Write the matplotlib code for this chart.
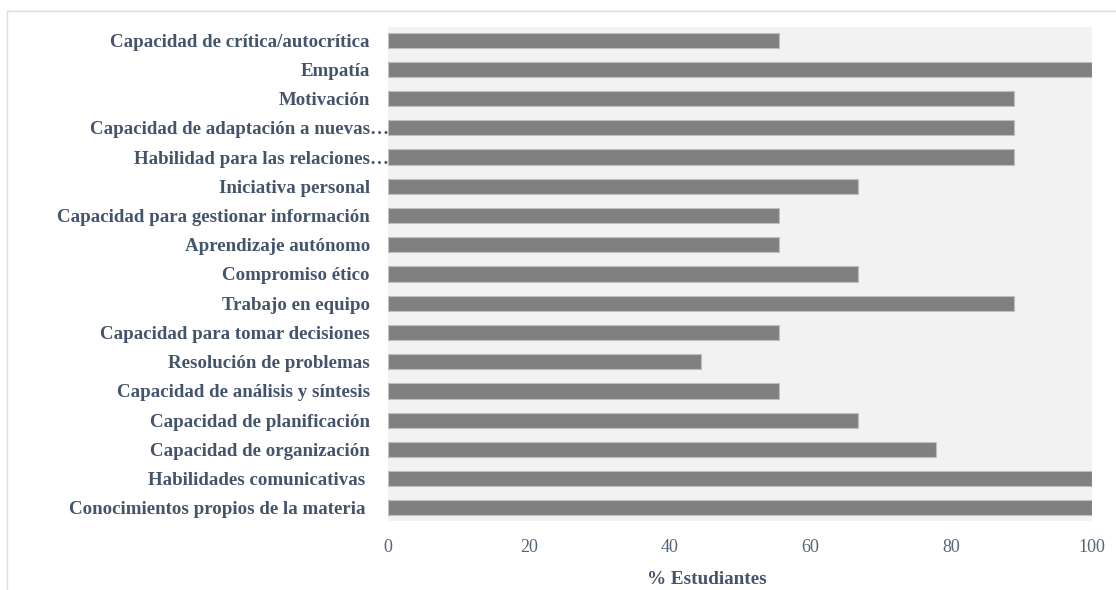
import matplotlib
matplotlib.use("Agg")
import matplotlib.pyplot as plt
from matplotlib.patches import Rectangle
from matplotlib.transforms import ScaledTranslation

categories = [
    "Conocimientos propios de la materia ",
    "Habilidades comunicativas ",
    "Capacidad de organización",
    "Capacidad de planificación",
    "Capacidad de análisis y síntesis",
    "Resolución de problemas",
    "Capacidad para tomar decisiones",
    "Trabajo en equipo",
    "Compromiso ético",
    "Aprendizaje autónomo",
    "Capacidad para gestionar información",
    "Iniciativa personal",
    "Habilidad para las relaciones…",
    "Capacidad de adaptación a nuevas…",
    "Motivación",
    "Empatía",
    "Capacidad de crítica/autocrítica",
]
values = [100, 100, 77.8, 66.7, 55.6, 44.4, 55.6, 88.9, 66.7, 55.6, 55.6,
          66.7, 88.9, 88.9, 88.9, 100, 55.6]
xticks = [0, 20, 40, 60, 80, 100]
xlabel = "% Estudiantes"

plt.rcParams['font.family'] = ['Liberation Serif', 'DejaVu Serif']

fig = plt.figure(figsize=(11.16, 5.90), dpi=100)
ax = fig.add_axes([388/1116, 1 - 521/590, (1092-388)/1116, (521-27)/590])

# outer chart frame
fig.patches.append(Rectangle((7/1116, -0.05), 1.2, 1 - 11/590 + 0.05,
                             transform=fig.transFigure, fill=False,
                             edgecolor='#D9DEE6', linewidth=1))

ax.set_facecolor('#F2F2F2')
y = list(range(len(categories)))
ax.barh(y, values, height=0.52, color='#808080', edgecolor='#BFBFBF',
        linewidth=0.8)
ax.set_xlim(0, 100)
ax.set_ylim(-0.45, len(categories) - 0.55)
ax.set_yticks(y)
ax.set_yticklabels(categories, fontsize=13.6, fontweight='bold', color='#44546A')
ax.set_xticks(xticks)
ax.set_xticklabels([str(t) for t in xticks], fontsize=13, color='#56647A')
ax.tick_params(axis='both', length=0)
ax.tick_params(axis='y', pad=13)
ax.tick_params(axis='x', pad=13)
ax.set_xlabel(xlabel, fontsize=13.8, fontweight='bold', color='#44546A')
ax.xaxis.set_label_coords((707 - 388) / 704, -0.102)
for s in ax.spines.values():
    s.set_visible(False)

# truncated labels extend up to the plot edge
for lab in ax.get_yticklabels():
    if lab.get_text().endswith("…"):
        lab.set_transform(lab.get_transform() +
                          ScaledTranslation(19/100, 0, fig.dpi_scale_trans))

fig.savefig("out.png", dpi=100)
